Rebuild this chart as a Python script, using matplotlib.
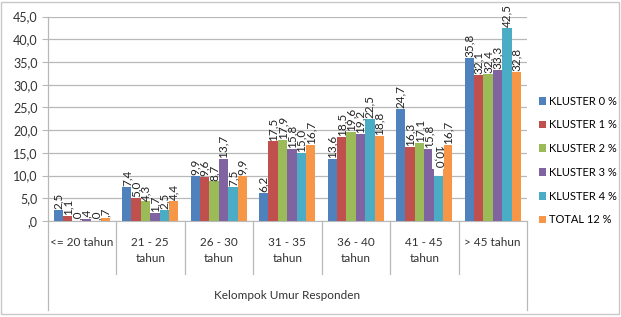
import matplotlib.pyplot as plt
import matplotlib.transforms as mtransforms
from matplotlib.patches import Rectangle
import numpy as np

plt.rcParams['font.family'] = ['Lato', 'DejaVu Sans']

categories = ["<= 20 tahun", "21 - 25\ntahun", "26 - 30\ntahun", "31 - 35\ntahun",
              "36 - 40\ntahun", "41 - 45\ntahun", "> 45 tahun"]
series = ["KLUSTER 0 %", "KLUSTER 1 %", "KLUSTER 2 %", "KLUSTER 3 %",
          "KLUSTER 4 %", "TOTAL 12 %"]
kluster0 = [2.5, 7.4, 9.9, 6.2, 13.6, 24.7, 35.8]
kluster1 = [1.1, 5.0, 9.6, 17.5, 18.5, 16.3, 32.1]
kluster2 = [0.0, 4.3, 8.7, 17.9, 19.6, 17.1, 32.4]
kluster3 = [0.4, 1.7, 13.7, 15.8, 19.2, 15.8, 33.3]
kluster4 = [0.0, 2.5, 7.5, 15.0, 22.5, 10.0, 42.5]
total12 = [0.7, 4.4, 9.9, 16.7, 18.8, 16.7, 32.8]
yticks = [0, 5, 10, 15, 20, 25, 30, 35, 40, 45]
ytick_labels = [",0", "5,0", "10,0", "15,0", "20,0", "25,0", "30,0", "35,0", "40,0", "45,0"]

values = [kluster0, kluster1, kluster2, kluster3, kluster4, total12]
colors = ["#4F81BD", "#C0504D", "#9BBB59", "#8064A2", "#4BACC6", "#F79646"]


def fmt(v):
    s = f"{v:.1f}".replace(".", ",")
    if s.startswith("0,"):
        s = s[1:]
    return s


W, H = 621, 317
dpi = 100
fig = plt.figure(figsize=(W / dpi, H / dpi), dpi=dpi)
ax = fig.add_axes([47.5 / W, (H - 221) / H, (527 - 47.5) / W, (221 - 16.5) / H])

x = np.arange(len(categories))
width = 0.137
for i, (vals, col, name) in enumerate(zip(values, colors, series)):
    pos = x + (i - 2.5) * width
    ax.bar(pos, vals, width, color=col, label=name, zorder=3)
    for j, (p, v) in enumerate(zip(pos, vals)):
        if i == 4 and j == 5:
            # this one is drawn turned the other way, with white box
            ax.text(p, v + 1.6, fmt(v), rotation=270, ha="center", va="bottom",
                    fontsize=8.5, color="#222222", zorder=4,
                    bbox=dict(facecolor="white", edgecolor="none", pad=0.3))
        else:
            ax.text(p, v + 0.2, fmt(v), rotation=90, ha="center", va="bottom",
                    fontsize=8.5, color="#222222", zorder=4)

ax.set_xlim(-0.5, len(categories) - 0.5)
ax.set_ylim(0, 45)
ax.set_yticks(yticks)
ax.set_yticklabels(ytick_labels, fontsize=9, color="#333333")
ax.set_xticks([])
ax.grid(axis="y", color="#b8b8b8", linewidth=0.9, zorder=0)
for s in ["top", "right", "left"]:
    ax.spines[s].set_visible(False)
ax.spines["bottom"].set_color("#b8b8b8")
ax.tick_params(axis="y", length=4, color="#b8b8b8", pad=3)

trans = mtransforms.blended_transform_factory(ax.transData, ax.transAxes)
# y axis line runs down past the category table
ax.plot([-0.5, -0.5], [1, -0.435], transform=trans, color="#b8b8b8", linewidth=0.9, clip_on=False)
for b in np.arange(0.5, len(categories) - 0.5, 1):
    ax.plot([b, b], [0, -0.26], transform=trans, color="#b8b8b8", linewidth=0.9, clip_on=False)
ax.plot([6.5, 6.5], [0, -0.435], transform=trans, color="#b8b8b8", linewidth=0.9, clip_on=False)

for j, c in enumerate(categories):
    ax.text(j, -0.08, c, transform=trans, ha="center", va="top", fontsize=8.5,
            color="#333333", linespacing=1.55)
ax.text(3, -0.365, "Kelompok Umur Responden", transform=trans, ha="center", va="center",
        fontsize=8.5, color="#333333")

fig.legend(loc="upper left", bbox_to_anchor=(533 / W, (H - 90) / H), frameon=False,
           fontsize=8, handlelength=0.7, handleheight=0.7, handletextpad=0.25,
           labelspacing=1.15, borderpad=0)

fig.patches.append(Rectangle((0.5 / W, 3 / H), 618.5 / W, 312 / H, transform=fig.transFigure,
                             fill=False, edgecolor="#c8c8c8", linewidth=1))

fig.savefig("out.png", dpi=dpi)
